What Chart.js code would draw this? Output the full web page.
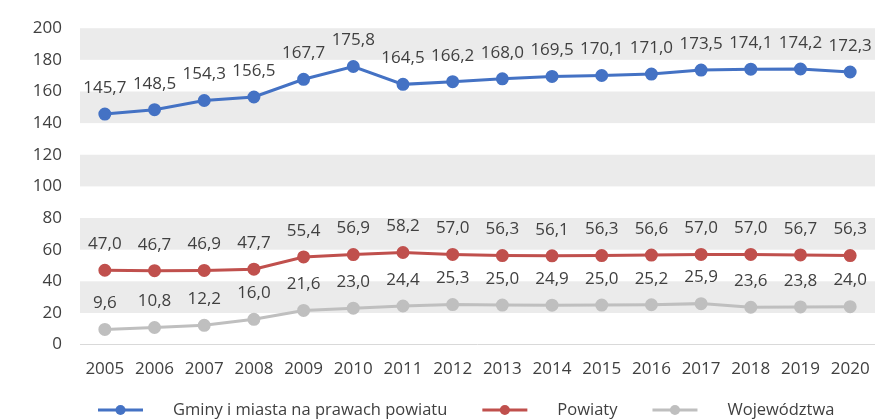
<!DOCTYPE html>
<html>
<head>
<meta charset="utf-8">
<script src="https://cdn.jsdelivr.net/npm/chart.js@4/dist/chart.umd.min.js"></script>
<style>
  html, body { margin: 0; padding: 0; background: #fff; }
  #wrap { width: 883px; height: 420px; position: relative; }
</style>
</head>
<body>
<div id="wrap"><canvas id="chart"></canvas></div>
<script>
// years on the x axis
const years = ['2005','2006','2007','2008','2009','2010','2011','2012','2013','2014','2015','2016','2017','2018','2019','2020'];

// series values
const gminy   = [145.7, 148.5, 154.3, 156.5, 167.7, 175.8, 164.5, 166.2, 168.0, 169.5, 170.1, 171.0, 173.5, 174.1, 174.2, 172.3];
const powiaty = [47.0, 46.7, 46.9, 47.7, 55.4, 56.9, 58.2, 57.0, 56.3, 56.1, 56.3, 56.6, 57.0, 57.0, 56.7, 56.3];
const woj     = [9.6, 10.8, 12.2, 16.0, 21.6, 23.0, 24.4, 25.3, 25.0, 24.9, 25.0, 25.2, 25.9, 23.6, 23.8, 24.0];

const seriesNames = ['Gminy i miasta na prawach powiatu', 'Powiaty', 'Województwa'];
const seriesColors = ['#4472C4', '#C0504D', '#BFBFBF'];

const textColor = '#404040';
const bandColor = '#EBEBEB';
const fontFamily = '"Open Sans", "Noto Sans", sans-serif';
const legendFont = '16.5px "Open Sans", sans-serif';

// alternating grey bands behind the plot
const bandsPlugin = {
  id: 'bands',
  beforeDraw(chart) {
    const { ctx, chartArea, scales } = chart;
    const y = scales.y;
    ctx.save();
    ctx.fillStyle = bandColor;
    for (let v = 20; v < 200; v += 40) {
      const top = y.getPixelForValue(v + 20);
      const bot = y.getPixelForValue(v);
      ctx.fillRect(chartArea.left, top, chartArea.right - chartArea.left, bot - top);
    }
    ctx.restore();
  }
};

// value labels above every point
const labelsPlugin = {
  id: 'valueLabels',
  afterDatasetsDraw(chart) {
    const ctx = chart.ctx;
    ctx.save();
    ctx.font = '17px ' + fontFamily;
    ctx.fillStyle = textColor;
    ctx.textAlign = 'center';
    ctx.textBaseline = 'middle';
    chart.data.datasets.forEach((ds, i) => {
      chart.getDatasetMeta(i).data.forEach((pt, j) => {
        ctx.fillText(ds.data[j].toFixed(1).replace('.', ','), pt.x, pt.y - 26);
      });
    });
    ctx.restore();
  }
};

// legend under the x labels: line + dot, then the name
const legendPlugin = {
  id: 'lineLegend',
  afterDraw(chart) {
    const ctx = chart.ctx;
    const y = chart.height - 10;
    let x = 98;
    ctx.save();
    ctx.font = legendFont;
    ctx.textBaseline = 'middle';
    ctx.textAlign = 'left';
    chart.data.datasets.forEach((ds) => {
      const col = ds.borderColor;
      ctx.strokeStyle = col;
      ctx.lineWidth = 3;
      ctx.beginPath(); ctx.moveTo(x, y); ctx.lineTo(x + 45, y); ctx.stroke();
      ctx.fillStyle = col;
      ctx.beginPath(); ctx.arc(x + 22.5, y, 5, 0, Math.PI * 2); ctx.fill();
      x += 45 + 30;
      ctx.fillStyle = textColor;
      ctx.fillText(ds.label, x, y);
      x += ctx.measureText(ds.label).width + 35;
    });
    ctx.restore();
  }
};

const mkSet = (label, data, color) => ({
  label, data,
  borderColor: color,
  backgroundColor: color,
  pointBackgroundColor: color,
  pointBorderColor: color,
  borderWidth: 3,
  pointRadius: 5,
  pointHoverRadius: 5,
  pointStyle: 'circle',
  tension: 0
});

new Chart(document.getElementById('chart'), {
  type: 'line',
  data: {
    labels: years,
    datasets: [
      mkSet(seriesNames[0], gminy, seriesColors[0]),
      mkSet(seriesNames[1], powiaty, seriesColors[1]),
      mkSet(seriesNames[2], woj, seriesColors[2])
    ]
  },
  options: {
    responsive: true,
    maintainAspectRatio: false,
    animation: false,
    layout: { padding: { top: 12, right: 0, left: 0, bottom: 35 } },
    plugins: {
      legend: { display: false },
      tooltip: { enabled: false }
    },
    scales: {
      x: {
        offset: true,
        grid: { display: false },
        border: { display: false },
        ticks: { color: textColor, font: { family: fontFamily, size: 17 }, padding: 6, maxRotation: 0 }
      },
      y: {
        min: 0, max: 200,
        grid: {
          drawTicks: false,
          color: (c) => c.tick && c.tick.value === 0 ? '#D9D9D9' : 'transparent'
        },
        border: { display: false },
        ticks: { stepSize: 20, color: textColor, font: { family: fontFamily, size: 17 }, padding: 18 },
        afterFit(scale) { scale.width = 80; }
      }
    }
  },
  plugins: [bandsPlugin, labelsPlugin, legendPlugin]
});
</script>
</body>
</html>
